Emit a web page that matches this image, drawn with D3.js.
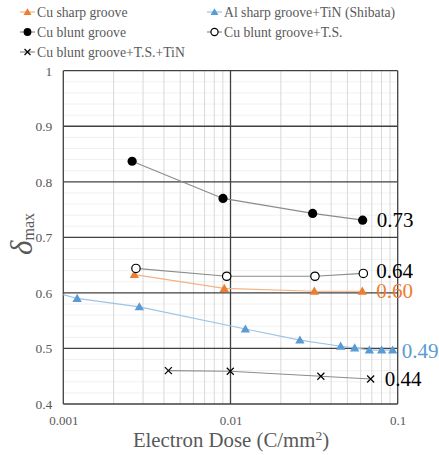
<!DOCTYPE html>
<html>
<head>
<meta charset="utf-8">
<script src="https://cdn.jsdelivr.net/npm/d3@7"></script>
<style>
  body { margin: 0; background: #fff; }
</style>
</head>
<body>
<div id="chart"></div>
<script>
// data
const cuSharpX = [0.00266, 0.00918, 0.0317, 0.0614];
const cuSharpY = [0.633, 0.608, 0.603, 0.603];

const alSharpX = [0.00121, 0.00285, 0.01227, 0.0260, 0.0456, 0.0553, 0.0677, 0.0802, 0.0933];
const alSharpY = [0.590, 0.575, 0.535, 0.515, 0.504, 0.501, 0.497, 0.497, 0.497];
// trend line of the Al series starts at the left edge
const alTrendX = [0.001, 0.00121, 0.00285, 0.01227, 0.0260, 0.0456, 0.0553, 0.0677, 0.0802, 0.0933];
const alTrendY = [0.597, 0.590, 0.575, 0.535, 0.515, 0.504, 0.501, 0.497, 0.497, 0.497];

const cuBluntX = [0.00258, 0.00902, 0.0310, 0.0617];
const cuBluntY = [0.837, 0.770, 0.743, 0.731];

const cuBluntTsX = [0.00272, 0.00949, 0.0320, 0.0623];
const cuBluntTsY = [0.644, 0.630, 0.630, 0.635];

const cuBluntTsTinX = [0.00425, 0.00997, 0.0347, 0.0689];
const cuBluntTsTinY = [0.460, 0.459, 0.450, 0.445];

const endLabels = ["0.73", "0.64", "0.60", "0.49", "0.44"];
const yTicks = [0.4, 0.5, 0.6, 0.7, 0.8, 0.9, 1];
const xTicks = [0.001, 0.01, 0.1];

const width = 439, height = 455;
const margin = {left: 63.3, right: 41.3, top: 70.7, bottom: 51};
const serif = "Liberation Serif";

const svg = d3.select("#chart").append("svg")
    .attr("width", width).attr("height", height)
    .attr("font-family", serif);

const x = d3.scaleLog().domain([0.001, 0.1]).range([margin.left, width - margin.right]);
const y = d3.scaleLinear().domain([0.4, 1]).range([height - margin.bottom, margin.top]);

const grid = svg.append("g");

// minor horizontal grid every 0.02
const minorY = d3.range(0.42, 1, 0.02).filter(v => Math.abs(v * 10 - Math.round(v * 10)) > 0.01);
grid.selectAll(".hminor").data(minorY).enter().append("line")
    .attr("x1", x(0.001)).attr("x2", x(0.1))
    .attr("y1", d => y(d)).attr("y2", d => y(d))
    .attr("stroke", "#f0f0f0").attr("stroke-width", 1);

// minor vertical grid 2..9 per decade
const minorX = [];
[0.001, 0.01].forEach(b => { for (let k = 2; k <= 9; k++) minorX.push(b * k); });
grid.selectAll(".vminor").data(minorX).enter().append("line")
    .attr("x1", d => x(d)).attr("x2", d => x(d))
    .attr("y1", y(0.4)).attr("y2", y(1))
    .attr("stroke", "#d9d9d9").attr("stroke-width", 1);

// major grid
grid.selectAll(".hmajor").data(yTicks).enter().append("line")
    .attr("x1", x(0.001)).attr("x2", x(0.1))
    .attr("y1", d => y(d)).attr("y2", d => y(d))
    .attr("stroke", "#404040").attr("stroke-width", 1.3);
grid.selectAll(".vmajor").data(xTicks).enter().append("line")
    .attr("x1", d => x(d)).attr("x2", d => x(d))
    .attr("y1", y(0.4)).attr("y2", y(1))
    .attr("stroke", "#404040").attr("stroke-width", 1.3);

// axes (labels only)
const yAxis = svg.append("g").attr("transform", `translate(${margin.left},0)`)
    .call(d3.axisLeft(y).tickValues(yTicks).tickSize(0).tickPadding(11).tickFormat(d3.format("")));
const xAxis = svg.append("g").attr("transform", `translate(0,${height - margin.bottom})`)
    .call(d3.axisBottom(x).tickValues(xTicks).tickSize(0).tickPadding(12).tickFormat(d3.format("")));
[yAxis, xAxis].forEach(a => {
    a.attr("font-family", serif);
    a.select(".domain").remove();
    a.selectAll("text").style("font-family", serif)
        .style("font-size", "13.5px").attr("fill", "#595959");
});
xAxis.selectAll("text").style("font-size", "13px");

const line = d3.line().x(d => x(d[0])).y(d => y(d[1]));
const zipXY = (xs, ys) => xs.map((v, i) => [v, ys[i]]);

const series = [
    {name: "Cu sharp groove", xs: cuSharpX, ys: cuSharpY, color: "#ED7D31", lineColor: "#F4B183", sym: "tri"},
    {name: "Al sharp groove+TiN (Shibata)", xs: alSharpX, ys: alSharpY, color: "#5B9BD5", lineColor: "#9DC3E6", sym: "tri",
        lx: alTrendX, ly: alTrendY},
    {name: "Cu blunt groove", xs: cuBluntX, ys: cuBluntY, color: "#000", lineColor: "#8c8c8c", sym: "dot"},
    {name: "Cu blunt groove+T.S.", xs: cuBluntTsX, ys: cuBluntTsY, color: "#000", lineColor: "#8c8c8c", sym: "open"},
    {name: "Cu blunt groove+T.S.+TiN", xs: cuBluntTsTinX, ys: cuBluntTsTinY, color: "#000", lineColor: "#8c8c8c", sym: "x"}
];

function drawSymbol(g, sym, color, cx, cy, s) {
    s = s || 1;
    if (sym === "tri") {
        g.append("path").attr("d", d3.symbol(d3.symbolTriangle, 38 * s * s)())
            .attr("transform", `translate(${cx},${cy + 0.8})`).attr("fill", color);
    } else if (sym === "dot") {
        g.append("circle").attr("cx", cx).attr("cy", cy).attr("r", 4.6 * s).attr("fill", color);
    } else if (sym === "open") {
        g.append("circle").attr("cx", cx).attr("cy", cy).attr("r", 4.2 * s)
            .attr("fill", "#fff").attr("stroke", color).attr("stroke-width", 1.2);
    } else if (sym === "x") {
        const r = 3.5 * s;
        g.append("path").attr("d", `M${cx - r},${cy - r}L${cx + r},${cy + r}M${cx - r},${cy + r}L${cx + r},${cy - r}`)
            .attr("stroke", color).attr("stroke-width", 1.2);
    }
}

const marks = svg.append("g");
series.forEach(s => {
    const pts = s.lx ? zipXY(s.lx, s.ly) : zipXY(s.xs, s.ys);
    marks.append("path").datum(pts).attr("d", line)
        .attr("fill", "none").attr("stroke", s.lineColor).attr("stroke-width", 1.2);
});
series.forEach(s => {
    zipXY(s.xs, s.ys).forEach(p => drawSymbol(marks, s.sym, s.color, x(p[0]), y(p[1])));
});

// end value labels
const labelInfo = [
    {t: endLabels[0], color: "#000", xv: 0.0617, yv: 0.731, dx: 14, dy: 7},
    {t: endLabels[1], color: "#000", xv: 0.0623, yv: 0.635, dx: 13, dy: 5},
    {t: endLabels[2], color: "#ED7D31", xv: 0.0614, yv: 0.603, dx: 14, dy: 7},
    {t: endLabels[3], color: "#5B9BD5", xv: 0.0933, yv: 0.497, dx: 9, dy: 8},
    {t: endLabels[4], color: "#000", xv: 0.0689, yv: 0.445, dx: 14, dy: 7}
];
svg.selectAll(".endlab").data(labelInfo).enter().append("text")
    .attr("x", d => x(d.xv) + d.dx).attr("y", d => y(d.yv) + d.dy)
    .attr("fill", d => d.color).style("font-family", serif).style("font-size", "21px").text(d => d.t);

// axis titles
const xt = svg.append("text").attr("x", 231).attr("y", 447)
    .attr("text-anchor", "middle").attr("fill", "#595959")
    .style("font-family", serif).style("font-size", "20.8px");
xt.append("tspan").text("Electron Dose (C/mm");
xt.append("tspan").attr("dy", -7).style("font-size", "13.5px").text("2");
xt.append("tspan").attr("dy", 7).text(")");

const yt = svg.append("text").attr("transform", `translate(32,234) rotate(-90)`)
    .attr("text-anchor", "middle").attr("fill", "#595959").style("font-family", serif);
yt.append("tspan").style("font-size", "31px").style("font-style", "italic").text("δ");
yt.append("tspan").attr("dy", 2).style("font-size", "16px").text("max");

// legend
const legend = svg.append("g");
const legPos = [[20, 12], [207, 12], [20, 32], [207, 32], [20, 52]];
series.forEach((s, i) => {
    const [lx, ly] = legPos[i];
    legend.append("line").attr("x1", lx).attr("x2", lx + 15).attr("y1", ly).attr("y2", ly)
        .attr("stroke", s.lineColor).attr("stroke-width", 1.2);
    drawSymbol(legend, s.sym, s.color, lx + 7.5, ly, 0.85);
    legend.append("text").attr("x", lx + 17).attr("y", ly + 5)
        .attr("fill", "#595959").style("font-family", serif).style("font-size", "13.7px").text(s.name);
});
</script>
</body>
</html>
